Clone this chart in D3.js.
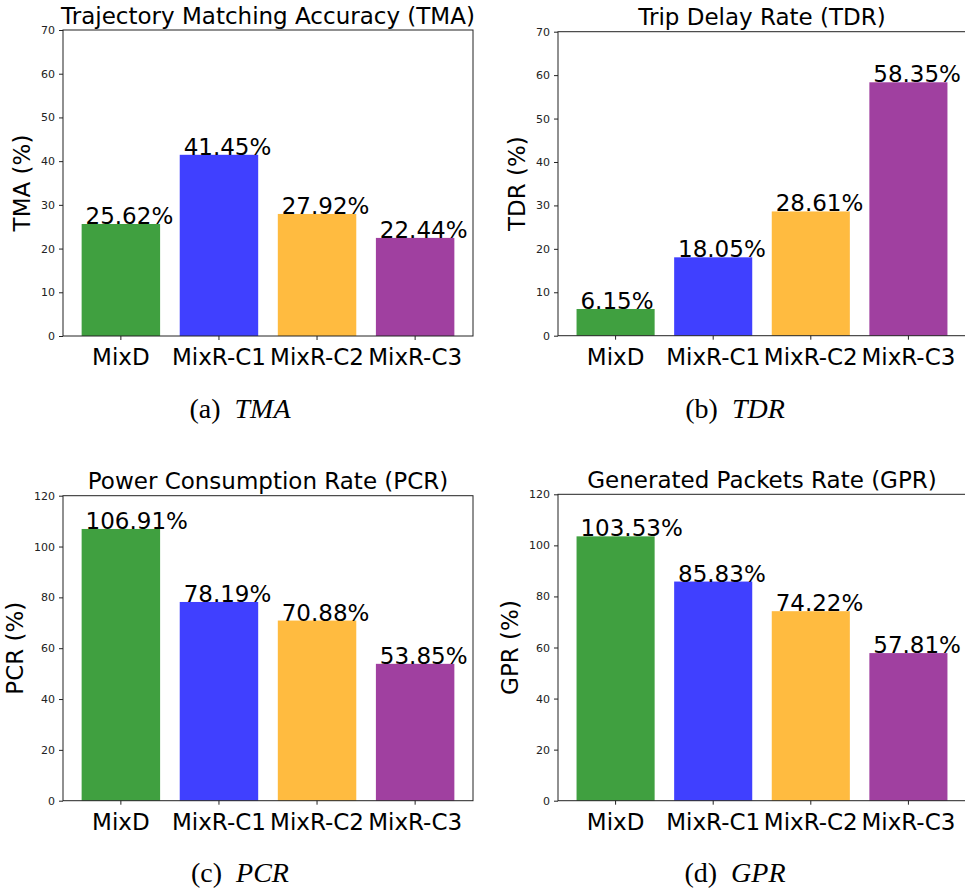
<!DOCTYPE html>
<html>
<head>
<meta charset="utf-8">
<script src="https://cdn.jsdelivr.net/npm/d3@7/dist/d3.min.js"></script>
<style>
  body { margin: 0; background: #fff; }
  svg { display: block; }
</style>
</head>
<body>
<div id="chart"></div>
<script>
// data
const categories = ['MixD', 'MixR-C1', 'MixR-C2', 'MixR-C3'];
const tmaValues = [25.62, 41.45, 27.92, 22.44];
const tdrValues = [6.15, 18.05, 28.61, 58.35];
const pcrValues = [106.91, 78.19, 70.88, 53.85];
const gprValues = [103.53, 85.83, 74.22, 57.81];
const ticksTop = [0, 10, 20, 30, 40, 50, 60, 70];
const ticksBottom = [0, 20, 40, 60, 80, 100, 120];

const barColors = ['#40a040', '#4040ff', '#ffbb40', '#a040a0'];

const W = 965, H = 895;
const svg = d3.select('#chart').append('svg')
  .attr('width', W)
  .attr('height', H);

// layout of the four sub figures
const panels = [
  { values: tmaValues, ticks: ticksTop, title: 'Trajectory Matching Accuracy (TMA)', ylabel: 'TMA (%)',
    tag: '(a)', name: 'TMA', left: 63, right: 473, top: 30, bottom: 336, capX: 240, capY: 418 },
  { values: tdrValues, ticks: ticksTop, title: 'Trip Delay Rate (TDR)', ylabel: 'TDR (%)',
    tag: '(b)', name: 'TDR', left: 558, right: 966, top: 31.7, bottom: 335.7, capX: 735, capY: 418 },
  { values: pcrValues, ticks: ticksBottom, title: 'Power Consumption Rate (PCR)', ylabel: 'PCR (%)',
    tag: '(c)', name: 'PCR', left: 63, right: 473, top: 495.7, bottom: 800.7, capX: 240, capY: 882 },
  { values: gprValues, ticks: ticksBottom, title: 'Generated Packets Rate (GPR)', ylabel: 'GPR (%)',
    tag: '(d)', name: 'GPR', left: 558, right: 966, top: 494.3, bottom: 800.7, capX: 735, capY: 882 }
];

const bigFont = 23;

panels.forEach((p) => {
  const g = svg.append('g');

  const x = d3.scaleBand()
    .domain(categories)
    .range([p.left, p.right])
    .paddingInner(0.2)
    .paddingOuter(0.19);

  const y = d3.scaleLinear()
    .domain([0, d3.max(p.ticks)])
    .range([p.bottom, p.top]);

  // bars
  g.selectAll('.bar')
    .data(p.values)
    .enter().append('rect')
    .attr('class', 'bar')
    .attr('x', (d, i) => x(categories[i]))
    .attr('y', d => y(d))
    .attr('width', x.bandwidth())
    .attr('height', d => y(0) - y(d))
    .attr('fill', (d, i) => barColors[i]);

  // value labels
  g.selectAll('.val')
    .data(p.values)
    .enter().append('text')
    .attr('class', 'val')
    .attr('x', (d, i) => x(categories[i]) + x.step() * 0.04)
    .attr('y', d => y(d))
    .attr('font-family', 'DejaVu Sans')
    .attr('font-size', bigFont)
    .attr('fill', '#000')
    .text(d => d.toFixed(2) + '%');

  // y axis
  const yAxis = g.append('g')
    .attr('transform', `translate(${p.left},0)`)
    .call(d3.axisLeft(y).tickValues(p.ticks).tickSize(4).tickPadding(4));
  yAxis.select('.domain').remove();
  yAxis.selectAll('.tick line').attr('stroke', '#222');
  yAxis.selectAll('text')
    .attr('font-family', 'DejaVu Sans')
    .attr('font-size', 11)
    .attr('fill', '#222');

  let tickW = 0;
  yAxis.selectAll('text').each(function() {
    tickW = Math.max(tickW, this.getComputedTextLength());
  });

  // x axis
  const xAxis = g.append('g')
    .attr('transform', `translate(0,${p.bottom})`)
    .call(d3.axisBottom(x).tickSize(4).tickPadding(9));
  xAxis.select('.domain').remove();
  xAxis.selectAll('.tick line').attr('stroke', '#222');
  xAxis.selectAll('text')
    .attr('font-family', 'DejaVu Sans')
    .attr('font-size', bigFont)
    .attr('fill', '#000');

  // frame
  g.append('rect')
    .attr('x', p.left)
    .attr('y', p.top)
    .attr('width', p.right - p.left)
    .attr('height', p.bottom - p.top)
    .attr('fill', 'none')
    .attr('stroke', '#222')
    .attr('stroke-width', 1);

  // title
  g.append('text')
    .attr('x', (p.left + p.right) / 2)
    .attr('y', p.top - 6.5)
    .attr('text-anchor', 'middle')
    .attr('font-family', 'DejaVu Sans')
    .attr('font-size', bigFont)
    .text(p.title);

  // y label
  const lx = p.left - 8 - tickW - 11;
  g.append('text')
    .attr('transform', `translate(${lx},${(p.top + p.bottom) / 2}) rotate(-90)`)
    .attr('text-anchor', 'middle')
    .attr('font-family', 'DejaVu Sans')
    .attr('font-size', bigFont)
    .text(p.ylabel);

  // caption
  const cap = g.append('text')
    .attr('x', p.capX)
    .attr('y', p.capY)
    .attr('text-anchor', 'middle')
    .attr('font-family', 'Liberation Serif')
    .attr('font-size', 28)
    .attr('fill', '#000');
  cap.append('tspan').text(p.tag);
  cap.append('tspan').attr('dx', 14).attr('font-style', 'italic').text(p.name);
});
</script>
</body>
</html>
